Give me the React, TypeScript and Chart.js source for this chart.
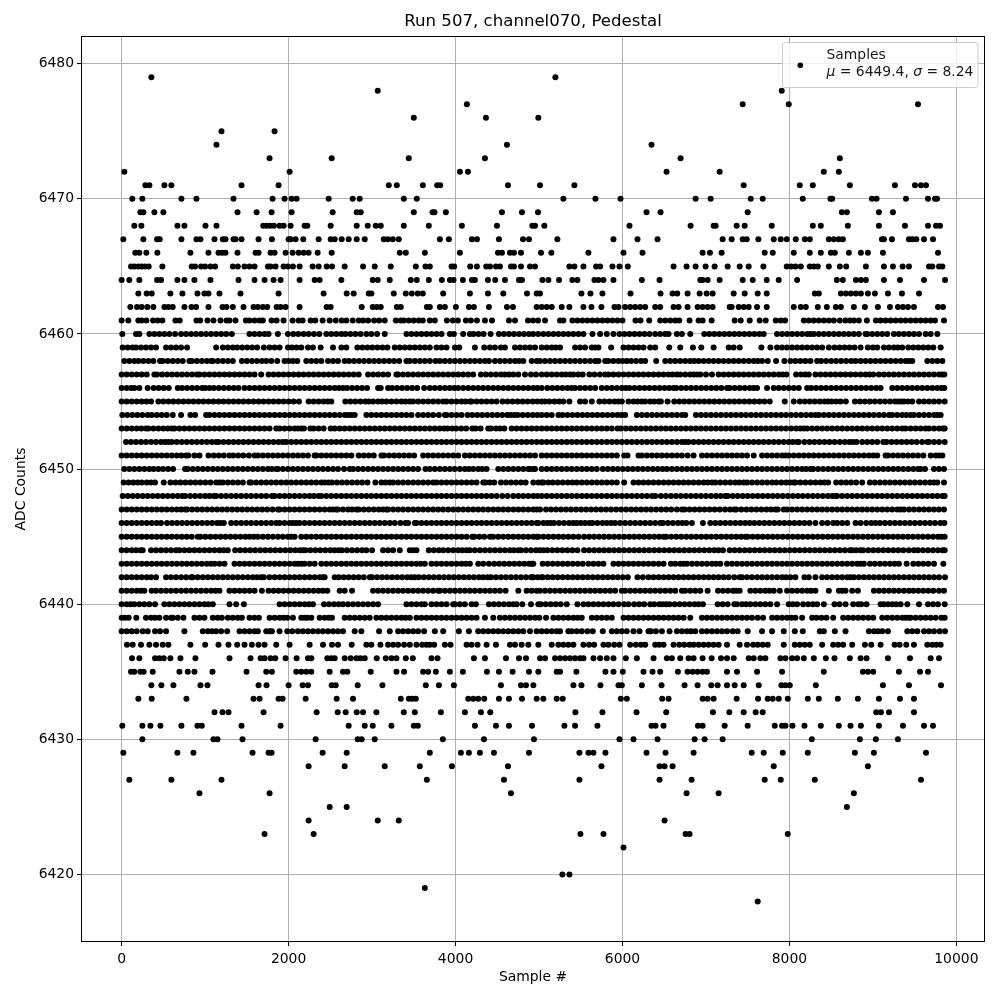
import React, { useEffect, useRef } from "react";
import { Chart, registerables } from "chart.js";

Chart.register(...registerables);

const chartTitle = "Run 507, channel070, Pedestal";
const xAxisLabel = "Sample #";
const yAxisLabel = "ADC Counts";
const seriesLabel = "Samples";
const xTickValues = [0, 2000, 4000, 6000, 8000, 10000];
const yTickValues = [6420, 6430, 6440, 6450, 6460, 6470, 6480];

const r6479 = [356, 5196];
const r6478 = [3068, 7908];
const r6477 = [4136, 7440, 7992, 9540];
const r6476 = [3500, 4364, 4992];
const r6475 = [1196, 1832];
const r6474 = [1136, 4616, 6348];
const r6473 = [1772, 2516, 3440, 4352, 6696, 8604];
const r6472 = [32, 2012, 4052, 4148, 6528, 7164, 8412, 8592];
const r6471 = [284, 332, 512, 596, 1436, 1880, 3200, 3296, 3608, 3780, 3816, 4628, 5012, 5424, 7452, 8124, 8280, 8724, 9264, 9504, 9576, 9636];
const r6470 = [128, 248, 716, 896, 1340, 1808, 1952, 2036, 2096, 2480, 2768, 2852, 3380, 3536, 5292, 5676, 5976, 6876, 7056, 7536, 7680, 8160, 8492, 8512, 8988, 9044, 9396, 9660, 9744, 9768];
const r6469 = [224, 260, 392, 500, 1388, 1616, 1796, 2036, 2528, 2816, 2864, 3500, 3724, 3748, 3884, 4556, 4796, 4988, 6288, 6456, 7500, 8628, 8688, 9072, 9240];
const r6468 = [152, 236, 668, 752, 1004, 1136, 1696, 1736, 1776, 1824, 1892, 1940, 2024, 2192, 2224, 2504, 2816, 2948, 3044, 3104, 3380, 3680, 4076, 4496, 4920, 4952, 5064, 6084, 6816, 7092, 7116, 7368, 7464, 7788, 8280, 8376, 8700, 9072, 9384, 9660, 9756, 9804];
const r6467 = [20, 260, 424, 456, 716, 896, 944, 1112, 1212, 1244, 1340, 1364, 1436, 1640, 1800, 2000, 2024, 2084, 2176, 2360, 2504, 2552, 2636, 2720, 2816, 2912, 3140, 3188, 3248, 3320, 3812, 3920, 4196, 4256, 4520, 4808, 4880, 5220, 5892, 6180, 6420, 7200, 7308, 7440, 7488, 7628, 7812, 7896, 7968, 8076, 8184, 8244, 8472, 8532, 8592, 8640, 9108, 9132, 9228, 9432, 9472, 9520, 9612, 9720];
const r6466 = [164, 212, 296, 428, 824, 1040, 1160, 1204, 1244, 1388, 1604, 1640, 1784, 1832, 1964, 2048, 2120, 2180, 2240, 2348, 2516, 3332, 3404, 3632, 4052, 4508, 4556, 4652, 4700, 4784, 5024, 5148, 5592, 6012, 6240, 6960, 7048, 7188, 7704, 7800, 8052, 8244, 8376, 8496, 8544, 8712, 8856, 8940, 9120, 9780];
const r6465 = [112, 152, 200, 240, 280, 324, 488, 840, 880, 952, 1000, 1064, 1120, 1332, 1392, 1472, 1532, 1592, 1752, 1784, 1844, 1940, 1992, 2052, 2132, 2288, 2360, 2456, 2520, 2672, 2892, 3032, 3224, 3524, 3640, 3692, 3952, 3984, 4176, 4256, 4368, 4412, 4484, 4532, 4664, 4700, 4784, 4892, 4952, 5364, 5424, 5532, 5684, 5732, 5880, 5964, 6064, 6612, 6768, 6876, 6996, 7104, 7260, 7404, 7512, 7688, 7968, 8020, 8072, 8136, 8244, 8292, 8340, 8472, 8604, 8680, 8916, 9132, 9240, 9356, 9432, 9672, 9712, 9792, 9832];
const r6464 = [0, 92, 212, 424, 472, 668, 752, 872, 1064, 1400, 1592, 1712, 1820, 1904, 2132, 2312, 2372, 2632, 3008, 3068, 3212, 3464, 3536, 3680, 3836, 3932, 3976, 4088, 4196, 4232, 4388, 4476, 4592, 4760, 4796, 5040, 5112, 5240, 5400, 5460, 5664, 5712, 5772, 5892, 6232, 6444, 6932, 6960, 7020, 7164, 7440, 7560, 7728, 7872, 8092, 8568, 8640, 8796, 8856, 8916, 9132, 9324, 9612, 9864];
const r6463 = [200, 300, 360, 584, 728, 908, 992, 1040, 1172, 1424, 1880, 2420, 2696, 2780, 2960, 2992, 3260, 3404, 3476, 3548, 3608, 3852, 4172, 4388, 4572, 4856, 4972, 5012, 5508, 5616, 5760, 6096, 6456, 6600, 6656, 6780, 6924, 7008, 7080, 7332, 7464, 7620, 7728, 8304, 8352, 8616, 8676, 8736, 8796, 8856, 8940, 9024, 9180, 9348, 9552];
const r6462 = [104, 184, 240, 308, 380, 512, 560, 612, 752, 836, 892, 1040, 1208, 1256, 1332, 1460, 1580, 1632, 1692, 1744, 1856, 1904, 1964, 2132, 2456, 2504, 2876, 3008, 3056, 3104, 3296, 3344, 3656, 3692, 3812, 3872, 4004, 4160, 4220, 4400, 4616, 4688, 4972, 5032, 5092, 5152, 5272, 5364, 5532, 5628, 5748, 5904, 5952, 6032, 6092, 6152, 6212, 6272, 6392, 6452, 6612, 6672, 6780, 6900, 6960, 7020, 7080, 7284, 7308, 7392, 7452, 7512, 7612, 7728, 8052, 8136, 8196, 8340, 8448, 8556, 8616, 8772, 8904, 9060, 9204, 9300, 9360, 9420, 9492, 9780, 9840];
const r6461 = [0, 80, 200, 240, 296, 376, 432, 488, 644, 696, 896, 940, 1028, 1100, 1184, 1256, 1292, 1364, 1488, 1532, 1592, 1652, 1692, 1796, 1856, 1940, 2048, 2120, 2168, 2264, 2320, 2408, 2492, 2564, 2636, 2692, 2768, 2840, 2892, 2952, 3024, 3084, 3152, 3284, 3344, 3380, 3440, 3500, 3560, 3608, 3692, 3752, 3896, 3968, 4028, 4124, 4184, 4256, 4352, 4436, 4640, 4712, 4868, 4928, 4988, 5072, 5252, 5292, 5400, 5460, 5520, 5580, 5640, 5700, 5760, 5820, 5880, 5940, 6000, 6156, 6216, 6320, 6452, 6512, 6572, 6632, 6680, 6804, 6912, 6960, 7068, 7344, 7416, 7524, 7644, 7716, 7836, 7896, 7948, 8172, 8232, 8292, 8352, 8412, 8472, 8532, 8604, 8672, 8724, 8772, 8832, 8928, 9036, 9092, 9152, 9212, 9272, 9332, 9392, 9452, 9512, 9572, 9632, 9692, 9744, 9852];
const r6460 = [8, 172, 212, 332, 392, 452, 512, 572, 640, 712, 772, 832, 892, 952, 1012, 1072, 1132, 1192, 1252, 1320, 1532, 1592, 1652, 1712, 1760, 1872, 1992, 2056, 2116, 2180, 2240, 2304, 2368, 2452, 2512, 2572, 2632, 2680, 2740, 2800, 2864, 2932, 2992, 3060, 3152, 3412, 3472, 3532, 3592, 3652, 3712, 3772, 3832, 3932, 3980, 4092, 4172, 4216, 4276, 4336, 4420, 4520, 4580, 4640, 4700, 4760, 4820, 4880, 4990, 5052, 5112, 5172, 5232, 5292, 5352, 5412, 5472, 5532, 5640, 5732, 5812, 5892, 5964, 6024, 6084, 6144, 6204, 6264, 6324, 6392, 6452, 6512, 6552, 6652, 6712, 6812, 6980, 7040, 7100, 7160, 7220, 7280, 7340, 7400, 7460, 7520, 7580, 7640, 7692, 7852, 7912, 7972, 8032, 8092, 8152, 8252, 8292, 8352, 8412, 8472, 8532, 8592, 8652, 8712, 8772, 8832, 8912, 8932, 8992, 9052, 9112, 9172, 9252, 9312, 9372, 9432, 9492, 9552, 9632, 9692, 9772, 4930, 8212];
const r6459 = [12, 72, 132, 172, 232, 292, 352, 412, 532, 592, 652, 712, 784, 1132, 1212, 1272, 1332, 1384, 1444, 1504, 1564, 1624, 1704, 1772, 1832, 1892, 1992, 2040, 2096, 2152, 2232, 2292, 2384, 2532, 2632, 2692, 2824, 2884, 2944, 3004, 3064, 3124, 3184, 3272, 3332, 3392, 3452, 3512, 3572, 3632, 3692, 3772, 3832, 3892, 3992, 4044, 4232, 4344, 4412, 4472, 4544, 4592, 4712, 4772, 4832, 4892, 4952, 5032, 5092, 5152, 5252, 5432, 5492, 5552, 5632, 5712, 5864, 6012, 6072, 6132, 6192, 6252, 6332, 6392, 6560, 6692, 6844, 6944, 7092, 7272, 7332, 7404, 7664, 7772, 7852, 7912, 7972, 8032, 8092, 8152, 8212, 8272, 8332, 8392, 8472, 8540, 8600, 8660, 8720, 8780, 8852, 8940, 9052, 9132, 9192, 9252, 9352, 9424, 9484, 9544, 9604, 9664, 9724, 9812, 5200, 5672, 9300, 9000];
const r6458 = [32, 92, 152, 200, 260, 320, 380, 460, 492, 552, 612, 672, 732, 812, 840, 900, 960, 1020, 1072, 1092, 1152, 1212, 1272, 1332, 1440, 1500, 1560, 1620, 1680, 1732, 1792, 1864, 1952, 2000, 2104, 2212, 2272, 2332, 2392, 2472, 2532, 2592, 2672, 2724, 2784, 2844, 2904, 2964, 3024, 3084, 3144, 3204, 3264, 3324, 3412, 3452, 3512, 3572, 3632, 3692, 3760, 3812, 3872, 3932, 3992, 4052, 4112, 4172, 4232, 4292, 4352, 4400, 4472, 4532, 4592, 4652, 4712, 4812, 4912, 4972, 5012, 5072, 5132, 5192, 5252, 5312, 5372, 5432, 5492, 5552, 5612, 5672, 5712, 5792, 5832, 5892, 5952, 6052, 6104, 6164, 6224, 6272, 6404, 6512, 6572, 6632, 6692, 6752, 6812, 6912, 6972, 7032, 7092, 7152, 7212, 7272, 7332, 7392, 7452, 7512, 7572, 7672, 7740, 7840, 7940, 8012, 8072, 8132, 8192, 8252, 8332, 8380, 8440, 8500, 8560, 8620, 8680, 8740, 8792, 8852, 8912, 8972, 9032, 9092, 9152, 9212, 9272, 9332, 9392, 9472, 9652, 9712, 9772, 9832, 4760, 6000, 6860, 7620, 2050, 9432];
const r6457 = [0, 60, 120, 180, 240, 300, 392, 424, 484, 544, 604, 664, 724, 784, 844, 904, 932, 992, 1052, 1112, 1172, 1232, 1292, 1352, 1412, 1472, 1532, 1592, 1672, 1760, 1820, 1880, 1940, 2000, 2060, 2120, 2180, 2240, 2300, 2360, 2420, 2480, 2540, 2600, 2660, 2720, 2780, 2840, 2952, 3012, 3072, 3132, 3192, 3292, 3312, 3372, 3432, 3492, 3552, 3612, 3672, 3732, 3792, 3852, 3912, 3972, 4032, 4092, 4152, 4212, 4304, 4364, 4424, 4484, 4544, 4640, 4692, 4752, 4832, 4904, 4964, 5032, 5092, 5152, 5212, 5272, 5372, 5412, 5524, 5604, 5664, 5792, 5832, 5892, 5952, 6012, 6072, 6132, 6192, 6252, 6312, 6372, 6432, 6492, 6552, 6652, 6692, 6752, 6812, 6892, 6932, 7072, 7152, 7212, 7272, 7332, 7392, 7452, 7512, 7572, 7632, 7692, 7752, 7812, 7872, 7964, 8080, 8232, 8312, 8372, 8432, 8492, 8552, 8612, 8672, 8732, 8792, 8852, 8912, 9004, 9072, 9132, 9192, 9252, 9312, 9372, 9432, 9492, 9552, 9612, 9672, 9732, 9792, 9856, 5320, 5730, 6600, 6852, 7000, 7920, 8140, 8190, 8960, 9828, 4592, 5470];
const r6456 = [0, 60, 112, 152, 212, 312, 384, 444, 504, 564, 672, 724, 784, 844, 904, 964, 1052, 1104, 1164, 1224, 1284, 1344, 1400, 1472, 1532, 1592, 1652, 1712, 1772, 1832, 1892, 1952, 2012, 2072, 2132, 2192, 2252, 2312, 2372, 2432, 2492, 2552, 2652, 2700, 2760, 2820, 2880, 2940, 3072, 3104, 3192, 3240, 3300, 3360, 3420, 3480, 3540, 3624, 3692, 3752, 3812, 3872, 3984, 4032, 4092, 4152, 4212, 4272, 4332, 4392, 4452, 4512, 4572, 4632, 4692, 4752, 4812, 4872, 4932, 5032, 5100, 5160, 5220, 5280, 5340, 5432, 5492, 5552, 5672, 5752, 5812, 5872, 5932, 6084, 6144, 6204, 6264, 6324, 6384, 6444, 6504, 6612, 6644, 6704, 6764, 6824, 6884, 6944, 7004, 7064, 7124, 7184, 7252, 7284, 7344, 7404, 7464, 7524, 7612, 7732, 7812, 7872, 7932, 7992, 8052, 8112, 8212, 8260, 8320, 8380, 8440, 8500, 8560, 8620, 8680, 8740, 8800, 8860, 8920, 8980, 9040, 9092, 9232, 9292, 9352, 9412, 9472, 9532, 9592, 9652, 9712, 9772, 9856, 5390, 5612, 5992, 6040, 6560, 7570, 9820, 2604, 3930, 1000, 4980];
const r6455 = [0, 60, 120, 180, 240, 352, 440, 500, 560, 620, 680, 740, 800, 860, 920, 980, 1040, 1100, 1160, 1220, 1280, 1340, 1400, 1460, 1520, 1580, 1640, 1700, 1760, 1820, 1880, 1940, 2000, 2124, 2240, 2300, 2360, 2420, 2512, 2680, 2740, 2800, 2860, 3012, 3072, 3172, 3232, 3292, 3352, 3452, 3492, 3552, 3612, 3672, 3732, 3852, 3892, 3952, 4012, 4072, 4172, 4192, 4252, 4312, 4372, 4432, 4492, 4564, 4624, 4684, 4744, 4804, 4864, 4924, 5032, 5072, 5124, 5184, 5292, 5364, 5492, 5552, 5632, 5724, 5784, 5844, 5904, 5992, 6072, 6132, 6232, 6272, 6332, 6432, 6460, 6540, 6620, 6680, 6740, 6800, 6860, 6920, 6980, 7040, 7100, 7160, 7220, 7280, 7340, 7400, 7460, 7520, 7580, 7640, 7700, 7764, 7944, 8052, 8124, 8184, 8244, 8304, 8364, 8464, 8504, 8612, 8676, 8784, 8844, 8904, 8964, 9024, 9084, 9144, 9204, 9264, 9340, 9372, 9472, 9552, 9672, 9732, 9792, 9860, 296, 2060, 2470, 2920, 2960, 3120, 3400, 3792, 4120, 4980, 5240, 5950, 6180, 6380, 8420, 8560, 9300, 9420, 9612];
const r6454 = [8, 68, 128, 188, 248, 312, 360, 420, 480, 540, 612, 712, 824, 880, 1012, 1052, 1112, 1172, 1232, 1292, 1352, 1412, 1472, 1532, 1592, 1652, 1712, 1772, 1832, 1892, 1952, 2012, 2072, 2132, 2192, 2252, 2312, 2372, 2432, 2492, 2552, 2672, 2712, 2792, 2932, 2992, 3052, 3112, 3172, 3232, 3292, 3352, 3412, 3472, 3552, 3612, 3672, 3732, 3872, 3892, 3952, 4012, 4072, 4144, 4200, 4260, 4320, 4380, 4440, 4500, 4560, 4704, 4744, 4804, 4864, 4924, 5032, 5092, 5152, 5232, 5280, 5340, 5400, 5460, 5520, 5580, 5640, 5700, 5760, 5820, 5880, 5940, 6032, 6172, 6232, 6292, 6352, 6412, 6472, 6532, 6592, 6712, 6752, 6880, 6940, 7000, 7060, 7120, 7180, 7240, 7300, 7360, 7420, 7480, 7540, 7600, 7660, 7720, 7780, 7840, 7900, 7960, 8020, 8080, 8140, 8200, 8312, 8352, 8412, 8472, 8532, 8592, 8652, 8712, 8772, 8832, 8892, 8952, 9012, 9072, 9192, 9232, 9292, 9352, 9452, 9492, 9552, 9612, 9672, 9732, 9812, 2612, 2752, 3800, 4620, 4660, 4980, 5990, 6652, 8260, 9130, 9400, 9772];
const r6453 = [0, 60, 120, 180, 292, 320, 380, 440, 500, 600, 632, 692, 752, 812, 872, 932, 992, 1052, 1112, 1172, 1232, 1292, 1352, 1412, 1472, 1532, 1592, 1652, 1712, 1772, 1852, 1892, 1952, 2012, 2152, 2184, 2260, 2300, 2360, 2420, 2504, 2552, 2612, 2672, 2732, 2792, 2852, 2912, 2972, 3032, 3092, 3152, 3212, 3272, 3332, 3392, 3452, 3512, 3572, 3632, 3692, 3752, 3864, 3904, 3960, 4008, 4068, 4128, 4200, 4240, 4300, 4392, 4424, 4484, 4584, 4672, 4732, 4792, 4852, 4912, 4972, 5032, 5092, 5152, 5212, 5272, 5332, 5392, 5452, 5512, 5572, 5632, 5692, 5752, 5812, 5872, 5940, 5980, 6040, 6100, 6160, 6220, 6280, 6340, 6400, 6460, 6520, 6580, 6640, 6700, 6760, 6820, 6880, 6940, 7000, 7060, 7120, 7180, 7240, 7300, 7360, 7420, 7480, 7540, 7600, 7660, 7720, 7780, 7840, 7900, 7960, 8020, 8080, 8172, 8212, 8272, 8332, 8392, 8452, 8512, 8572, 8632, 8692, 8752, 8812, 8872, 8932, 8992, 9052, 9112, 9172, 9232, 9292, 9352, 9392, 9452, 9512, 9572, 9632, 9672, 9732, 9792, 9860, 236, 552, 2072, 2112, 3810, 4532, 8130, 9840];
const r6452 = [52, 112, 172, 232, 292, 352, 412, 560, 600, 660, 720, 780, 840, 900, 960, 1020, 1132, 1160, 1220, 1280, 1340, 1400, 1460, 1520, 1580, 1640, 1700, 1760, 1820, 1880, 1972, 2032, 2092, 2152, 2212, 2272, 2332, 2392, 2452, 2512, 2572, 2632, 2692, 2752, 2812, 2872, 2932, 2992, 3052, 3112, 3172, 3232, 3292, 3352, 3412, 3472, 3532, 3592, 3652, 3712, 3772, 3832, 3892, 3952, 4012, 4072, 4132, 4192, 4252, 4312, 4372, 4432, 4492, 4552, 4612, 4672, 4732, 4792, 4852, 4912, 4972, 5032, 5092, 5152, 5212, 5272, 5332, 5392, 5452, 5512, 5572, 5632, 5692, 5752, 5812, 5872, 5932, 5992, 6052, 6112, 6172, 6232, 6292, 6352, 6412, 6472, 6532, 6592, 6652, 6792, 6852, 6912, 6972, 7032, 7092, 7152, 7212, 7272, 7332, 7392, 7452, 7512, 7572, 7632, 7692, 7752, 7812, 7872, 7932, 7992, 8092, 8112, 8180, 8240, 8300, 8360, 8420, 8540, 8604, 8664, 8804, 8872, 8932, 8992, 9124, 9164, 9224, 9284, 9344, 9404, 9464, 9524, 9652, 9672, 9732, 9792, 9860, 472, 520, 1080, 1930, 6712, 6752, 8040, 8480, 8720, 8760, 9052, 9590];
const r6451 = [0, 60, 120, 180, 240, 300, 360, 420, 480, 540, 600, 660, 772, 800, 872, 932, 1040, 1104, 1164, 1292, 1336, 1396, 1456, 1592, 1632, 1692, 1752, 1812, 1872, 1932, 1992, 2052, 2112, 2172, 2232, 2312, 2332, 2392, 2452, 2512, 2572, 2632, 2692, 2752, 2840, 2900, 2960, 3020, 3112, 3144, 3204, 3264, 3324, 3384, 3444, 3504, 3612, 3672, 3732, 3792, 3852, 3912, 3972, 4032, 4112, 4172, 4232, 4292, 4352, 4412, 4472, 4532, 4592, 4652, 4712, 4772, 4832, 4892, 4952, 5032, 5092, 5152, 5212, 5272, 5332, 5392, 5452, 5512, 5572, 5632, 5692, 5752, 5812, 5872, 5932, 6020, 6060, 6192, 6232, 6292, 6352, 6412, 6472, 6532, 6592, 6652, 6780, 6852, 6952, 7012, 7072, 7132, 7192, 7252, 7312, 7372, 7432, 7492, 7572, 7672, 7732, 7792, 7852, 7952, 7992, 8052, 8112, 8172, 8232, 8292, 8352, 8412, 8472, 8592, 8652, 8712, 8772, 8832, 8892, 9004, 9052, 9152, 9180, 9240, 9300, 9360, 9420, 9480, 9604, 9692, 9832, 716, 1224, 1524, 6712, 7912, 8532, 8952, 9540, 9752, 9792];
const r6450 = [32, 92, 152, 212, 272, 332, 440, 496, 556, 616, 760, 792, 852, 912, 972, 1032, 1092, 1152, 1212, 1272, 1332, 1392, 1452, 1512, 1572, 1632, 1692, 1752, 1852, 1872, 1932, 1992, 2052, 2112, 2172, 2232, 2292, 2352, 2412, 2472, 2532, 2592, 2732, 2772, 2832, 2892, 2952, 3012, 3072, 3132, 3192, 3252, 3312, 3372, 3432, 3492, 3552, 3640, 3692, 3752, 3812, 3872, 4052, 4112, 4212, 4272, 4372, 4512, 4572, 4632, 4752, 4812, 4872, 4932, 5032, 4892, 4952, 5092, 5152, 5212, 5272, 5332, 5392, 5452, 5512, 5572, 5632, 5692, 5764, 5824, 5884, 5944, 6004, 6064, 6124, 6184, 6244, 6304, 6364, 6424, 6532, 6592, 6652, 6712, 6772, 6832, 6892, 6952, 7012, 7072, 7132, 7192, 7252, 7312, 7372, 7432, 7492, 7552, 7612, 7672, 7732, 7792, 7852, 7912, 7972, 8032, 8092, 8152, 8252, 8284, 8344, 8404, 8464, 8524, 8584, 8644, 8704, 8764, 8824, 8884, 8944, 9004, 9064, 9124, 9184, 9244, 9304, 9364, 9424, 9484, 9572, 9624, 9732, 9852, 384, 1800, 2664, 3932, 3990, 4160, 4320, 4692, 6480, 8200, 9540, 9792];
const r6449 = [24, 84, 192, 240, 352, 400, 504, 584, 644, 704, 764, 824, 884, 944, 1004, 1064, 1172, 1212, 1272, 1332, 1392, 1532, 1552, 1612, 1672, 1732, 1792, 1852, 1912, 1972, 2032, 2092, 2152, 2212, 2272, 2332, 2480, 2520, 2580, 2640, 2700, 2760, 2820, 2944, 3040, 3112, 3212, 3252, 3312, 3372, 3432, 3492, 3552, 3612, 3732, 3772, 3832, 3892, 3952, 4012, 4072, 4132, 4192, 4252, 4332, 4360, 4464, 4544, 4604, 4664, 4724, 4840, 4932, 5032, 5112, 5164, 5224, 5284, 5344, 5452, 5512, 5572, 5632, 5692, 5752, 5812, 5872, 5932, 6020, 6132, 6192, 6252, 6312, 6372, 6432, 6492, 6552, 6612, 6672, 6732, 6792, 6852, 6912, 6972, 7072, 7112, 7172, 7232, 7292, 7452, 7492, 7552, 7612, 7672, 7792, 7844, 7904, 8052, 8072, 8132, 8192, 8252, 8312, 8372, 8464, 8560, 8620, 8680, 8872, 8964, 9024, 9084, 9144, 9204, 9264, 9324, 9384, 9444, 9504, 9564, 9624, 9684, 9772, 9852, 140, 300, 1132, 1452, 2392, 2432, 2880, 3160, 3672, 4412, 4784, 4992, 5052, 5400, 7020, 7352, 7400, 7732, 7960, 8010, 8420, 8740, 8800, 9730];
const r6448 = [12, 72, 132, 192, 252, 312, 372, 432, 492, 552, 612, 724, 760, 820, 880, 940, 1104, 1132, 1192, 1252, 1312, 1372, 1432, 1492, 1552, 1612, 1672, 1732, 1800, 1832, 1892, 1952, 2012, 2072, 2132, 2192, 2252, 2360, 2392, 2452, 2512, 2572, 2632, 2692, 2752, 2812, 2872, 2932, 2992, 3052, 3112, 3172, 3232, 3292, 3352, 3412, 3472, 3532, 3592, 3652, 3712, 3772, 3832, 3952, 4012, 4072, 4132, 4192, 4252, 4312, 4372, 4432, 4492, 4624, 4692, 4752, 4812, 4872, 4932, 5032, 5092, 5152, 5212, 5272, 5332, 5392, 5452, 5512, 5572, 5632, 5692, 5752, 5812, 5872, 5932, 5992, 6052, 6112, 6172, 6232, 6352, 6392, 6460, 6520, 6580, 6640, 6700, 6760, 6820, 6880, 6940, 7000, 7060, 7120, 7232, 7260, 7320, 7380, 7440, 7500, 7560, 7620, 7680, 7740, 7800, 7860, 7920, 7980, 8040, 8100, 8160, 8220, 8280, 8340, 8400, 8552, 8572, 8632, 8692, 8752, 8812, 8872, 8932, 8992, 9052, 9112, 9172, 9232, 9292, 9352, 9412, 9472, 9532, 9592, 9652, 9712, 9772, 9860, 672, 1000, 1052, 2304, 3892, 4560, 4980, 6292, 7176, 8460, 8512, 9830];
const r6447 = [0, 60, 120, 180, 240, 300, 360, 420, 480, 540, 600, 760, 784, 844, 904, 964, 1024, 1084, 1144, 1204, 1264, 1324, 1384, 1444, 1504, 1564, 1624, 1684, 1744, 1872, 1892, 1952, 2012, 2072, 2132, 2192, 2252, 2312, 2372, 2432, 2572, 2592, 2652, 2812, 2840, 2900, 2960, 3172, 3192, 3312, 3372, 3432, 3492, 3552, 3612, 3672, 3732, 3792, 3852, 3912, 3972, 4032, 4092, 4152, 4212, 4272, 4332, 4392, 4452, 4512, 4572, 4632, 4692, 4752, 4812, 4872, 5012, 5084, 5144, 5204, 5264, 5324, 5384, 5444, 5504, 5564, 5624, 5684, 5744, 5804, 5864, 5924, 5984, 6044, 6104, 6164, 6224, 6284, 6344, 6404, 6464, 6524, 6584, 6712, 6744, 6804, 6864, 6924, 6984, 7044, 7104, 7164, 7340, 7364, 7424, 7484, 7544, 7604, 7664, 7724, 7832, 7860, 7932, 7972, 8032, 8092, 8152, 8212, 8272, 8332, 8392, 8452, 8512, 8572, 8632, 8692, 8752, 8812, 8872, 8932, 8992, 9052, 9112, 9172, 9232, 9372, 9432, 9492, 9552, 9612, 9672, 9732, 9852, 660, 712, 1808, 2492, 2532, 2712, 2760, 3020, 3080, 3132, 3252, 4932, 4972, 6652, 7228, 7288, 7780, 9292, 9332, 9792];
const r6446 = [0, 60, 120, 180, 240, 300, 360, 472, 544, 604, 664, 724, 784, 844, 904, 964, 1024, 1084, 1224, 1312, 1372, 1432, 1492, 1552, 1612, 1672, 1852, 1892, 2092, 2132, 2192, 2252, 2312, 2372, 2432, 2492, 2552, 2612, 2672, 2732, 2792, 2852, 2912, 2972, 3032, 3092, 3152, 3212, 3272, 3400, 3432, 3512, 3532, 3592, 3652, 3712, 3772, 3832, 3892, 3952, 4012, 4072, 4132, 4192, 4252, 4312, 4372, 4432, 4492, 4552, 4612, 4672, 4732, 4792, 4852, 4972, 4992, 5052, 5140, 5180, 5240, 5300, 5360, 5452, 5500, 5604, 5640, 5700, 5864, 5912, 5972, 6032, 6092, 6152, 6212, 6272, 6332, 6452, 6484, 6544, 6604, 6764, 6832, 6964, 7052, 7112, 7172, 7232, 7292, 7352, 7412, 7524, 7580, 7640, 7700, 7760, 7820, 7880, 7940, 8000, 8060, 8120, 8180, 8312, 8392, 8524, 8572, 8692, 8792, 8852, 8980, 9032, 9084, 9144, 9204, 9264, 9324, 9384, 9444, 9504, 9564, 9624, 9684, 9744, 9856, 420, 1144, 1184, 1732, 1792, 1952, 2012, 2052, 3340, 4912, 5100, 5410, 5552, 5760, 5812, 6392, 6664, 6716, 7470, 8240, 8456, 8632, 8920, 9808];
const r6445 = [0, 60, 120, 180, 240, 300, 360, 420, 480, 540, 600, 660, 720, 780, 912, 944, 1004, 1064, 1124, 1184, 1244, 1304, 1364, 1424, 1484, 1584, 1632, 1692, 1752, 1812, 1872, 1932, 2072, 2152, 2212, 2272, 2332, 2392, 2452, 2512, 2572, 2632, 2692, 2752, 2812, 2872, 2932, 2992, 3052, 3112, 3172, 3232, 3292, 3352, 3412, 3472, 3532, 3592, 3652, 3712, 3772, 3832, 3892, 3952, 4012, 4072, 4200, 4224, 4412, 4452, 4512, 4572, 4632, 4692, 4752, 4812, 4872, 4972, 4992, 5052, 5112, 5172, 5232, 5292, 5352, 5472, 5540, 5600, 5660, 5720, 5780, 5840, 5900, 5960, 6020, 6080, 6140, 6200, 6260, 6320, 6380, 6492, 6524, 6584, 6644, 6704, 6764, 6824, 6884, 6944, 7004, 7064, 7124, 7184, 7244, 7304, 7364, 7472, 7500, 7560, 7620, 7680, 7740, 7800, 7860, 7920, 7980, 8040, 8100, 8160, 8220, 8280, 8340, 8400, 8460, 8520, 8580, 8640, 8700, 8760, 8820, 8880, 8940, 9000, 9060, 9120, 9180, 9240, 9300, 9360, 9420, 9480, 9540, 9600, 9660, 9720, 9780, 9860, 840, 1532, 1992, 2032, 4132, 4284, 4344, 4932, 5412, 6440, 7420, 9820];
const r6444 = [0, 60, 120, 224, 252, 352, 412, 472, 532, 652, 692, 752, 812, 872, 932, 992, 1052, 1112, 1272, 1360, 1420, 1480, 1540, 1600, 1660, 1720, 1780, 1840, 1900, 1960, 2020, 2172, 2200, 2260, 2320, 2380, 2440, 2600, 2640, 2700, 2760, 2820, 2932, 3000, 3132, 3192, 3332, 3452, 3532, 3680, 3740, 3852, 3912, 3972, 4132, 4172, 4232, 4292, 4352, 4412, 4472, 4532, 4592, 4752, 4784, 4844, 4904, 5052, 5100, 5160, 5220, 5280, 5460, 5540, 5600, 5660, 5720, 5780, 5840, 5900, 5960, 6020, 6080, 6140, 6200, 6260, 6320, 6380, 6440, 6500, 6560, 6620, 6680, 6740, 6800, 6860, 6920, 6980, 7040, 7152, 7204, 7284, 7344, 7404, 7464, 7524, 7584, 7644, 7704, 7764, 7824, 7884, 7944, 8004, 8064, 8124, 8184, 8244, 8304, 8364, 8424, 8484, 8544, 8604, 8724, 8752, 8852, 8884, 8944, 9004, 9064, 9124, 9184, 9244, 9304, 9364, 9492, 9540, 9600, 9660, 9720, 9780, 9860, 172, 592, 1172, 1222, 2080, 2132, 2500, 2552, 2880, 3252, 3492, 3800, 4032, 4082, 4652, 4700, 4964, 5012, 5340, 5400, 7100, 8664, 8800, 9430, 9836];
const r6443 = [0, 60, 120, 180, 240, 300, 360, 420, 480, 540, 600, 660, 720, 780, 840, 900, 960, 1020, 1112, 1172, 1232, 1352, 1412, 1472, 1532, 1592, 1652, 1712, 1772, 1832, 1892, 1952, 2012, 2152, 2192, 2312, 2392, 2452, 2512, 2572, 2632, 2692, 2752, 2812, 2872, 2932, 2992, 3052, 3112, 3172, 3292, 3352, 3412, 3472, 3532, 3632, 3712, 3772, 3832, 3892, 3952, 4012, 4072, 4172, 4272, 4400, 4464, 4524, 4584, 4644, 4704, 4764, 4824, 4932, 4912, 5044, 5104, 5164, 5224, 5284, 5344, 5404, 5592, 5652, 5772, 5892, 5952, 6012, 6072, 6132, 6192, 6252, 6312, 6372, 6432, 6492, 6580, 6632, 6772, 6832, 6892, 6952, 7012, 7072, 7172, 7252, 7312, 7372, 7432, 7492, 7612, 7672, 7732, 7792, 7852, 7912, 7972, 8032, 8092, 8152, 8212, 8272, 8332, 8392, 8452, 8512, 8572, 8632, 8692, 8752, 8892, 8964, 9024, 9084, 9144, 9204, 9312, 9404, 9484, 9544, 9604, 9664, 9732, 9844, 1070, 2072, 2112, 2252, 3232, 3580, 4122, 4332, 4880, 5464, 5524, 5712, 6692, 6732, 7120, 7552, 8812, 8852, 9260];
const r6442 = [0, 60, 120, 180, 240, 352, 412, 532, 592, 652, 712, 832, 852, 912, 972, 1032, 1092, 1152, 1212, 1272, 1332, 1392, 1452, 1512, 1572, 1672, 1704, 1772, 1832, 1892, 1952, 2012, 2072, 2132, 2192, 2252, 2412, 2432, 2552, 2600, 2660, 2720, 2780, 2840, 2972, 3000, 3060, 3120, 3180, 3240, 3300, 3360, 3420, 3512, 3560, 3620, 3680, 3740, 3800, 3860, 3920, 3980, 4040, 4100, 4160, 4220, 4280, 4384, 4424, 4484, 4544, 4604, 4664, 4724, 4784, 4904, 4932, 5032, 4924, 4984, 5044, 5104, 5164, 5224, 5284, 5344, 5404, 5464, 5524, 5584, 5644, 5704, 5764, 5824, 5884, 5944, 6004, 6064, 6180, 6244, 6312, 6372, 6432, 6492, 6552, 6612, 6672, 6732, 6792, 6852, 6912, 6972, 7032, 7092, 7152, 7212, 7272, 7404, 7432, 7492, 7552, 7612, 7672, 7732, 7792, 7852, 7912, 8012, 8072, 8180, 8232, 8312, 8392, 8452, 8512, 8572, 8632, 8772, 8832, 8892, 8952, 9012, 9072, 9132, 9192, 9252, 9312, 9372, 9432, 9492, 9552, 9612, 9672, 9732, 9792, 9864, 300, 772, 1622, 2312, 2372, 2900, 3470, 4332, 4844, 7340, 7960, 8692, 8732];
const r6441 = [0, 60, 120, 180, 272, 360, 412, 472, 532, 592, 652, 712, 772, 832, 892, 952, 1012, 1072, 1172, 1292, 1352, 1412, 1472, 1592, 1680, 1760, 1820, 1880, 1940, 2000, 2060, 2120, 2180, 2240, 2300, 2412, 2464, 2612, 2672, 2760, 3012, 3072, 3132, 3192, 3252, 3312, 3372, 3432, 3492, 3552, 3612, 3672, 3792, 3812, 3872, 3932, 3992, 4052, 4112, 4172, 4232, 4292, 4352, 4412, 4472, 4600, 4752, 4852, 4912, 4972, 5012, 5072, 5132, 5192, 5252, 5312, 5372, 5432, 5492, 5552, 5612, 5672, 5732, 5792, 5852, 5912, 5992, 6032, 6092, 6152, 6212, 6272, 6332, 6392, 6452, 6512, 6572, 6632, 6712, 6752, 6812, 6872, 6932, 7020, 7144, 7204, 7264, 7404, 7532, 7592, 7652, 7712, 7812, 7884, 7972, 8032, 8092, 8152, 8212, 8312, 8472, 8592, 8672, 8752, 8820, 9012, 9072, 9132, 9192, 9252, 9312, 9432, 9484, 9544, 9604, 9664, 9792, 9852, 230, 1124, 1532, 2360, 3732, 4532, 7324, 7364, 7760, 8260, 8632, 9372, 9724];
const r6440 = [0, 60, 152, 212, 272, 400, 512, 572, 632, 692, 752, 812, 872, 932, 992, 1092, 1292, 1372, 1464, 1892, 1952, 2012, 2072, 2132, 2292, 2424, 2484, 2544, 2652, 2712, 2772, 2832, 2892, 2952, 3072, 3412, 3472, 3532, 3632, 3712, 3772, 3832, 3892, 3972, 3992, 4052, 4112, 4192, 4244, 4400, 4460, 4520, 4580, 4640, 4732, 4800, 4904, 4992, 5020, 5080, 5140, 5200, 5332, 5460, 5532, 5592, 5652, 5712, 5772, 5832, 5892, 6020, 6072, 6140, 6200, 6332, 6380, 6440, 6524, 6564, 6624, 6684, 6744, 6804, 6864, 6964, 7140, 7200, 7260, 7340, 7372, 7432, 7532, 7592, 7652, 7712, 7772, 7852, 7992, 8092, 8164, 8224, 8332, 8412, 8540, 8672, 8764, 8824, 8924, 9092, 9180, 9232, 9332, 9412, 9552, 9660, 9720, 9780, 9860, 108, 332, 1040, 2192, 2244, 2600, 3012, 3592, 4692, 5260, 5952, 6260, 6480, 6912, 8040, 8280, 8600, 8860, 9130, 9280, 7480];
const r6439 = [0, 84, 176, 292, 352, 452, 532, 592, 672, 740, 872, 932, 992, 1092, 1200, 1272, 1332, 1440, 1532, 1644, 1772, 1832, 1892, 1984, 2052, 2152, 2224, 2272, 2372, 2432, 2520, 2672, 2732, 2792, 2852, 2972, 3052, 3112, 3232, 3292, 3452, 3532, 3592, 3652, 3712, 3772, 3832, 3892, 3952, 4012, 4072, 4132, 4252, 4352, 4452, 4532, 4592, 4652, 4712, 4772, 4832, 4892, 5004, 5084, 5172, 5232, 5292, 5352, 5512, 5632, 5692, 5872, 6012, 6072, 6132, 6192, 6252, 6312, 6372, 6432, 6492, 6552, 6812, 6952, 7012, 7072, 7132, 7192, 7252, 7312, 7372, 7432, 7492, 7552, 7684, 7792, 7852, 8072, 8152, 8272, 8324, 8384, 8524, 8644, 8704, 8764, 8824, 9004, 9112, 9172, 9232, 9432, 9452, 9512, 9572, 9632, 9692, 9752, 9860, 40, 400, 612, 1150, 1392, 1590, 1940, 2190, 2480, 2912, 3172, 3352, 3402, 4192, 4952, 5412, 5462, 5752, 5812, 6612, 6672, 6732, 7620, 7912, 7972, 8022, 8444, 8884, 8944, 9292, 9352, 9392, 9820];
const r6438 = [0, 60, 120, 180, 252, 312, 400, 460, 532, 752, 972, 1032, 1132, 1192, 1264, 1412, 1472, 1532, 1632, 1732, 1800, 1892, 1984, 2044, 2112, 2172, 2232, 2292, 2352, 2412, 2472, 2532, 2652, 2792, 2872, 3084, 3212, 3312, 3372, 3432, 3552, 3624, 3752, 3852, 4040, 4160, 4272, 4332, 4392, 4512, 4572, 4632, 4692, 4752, 4892, 4972, 5032, 5092, 5212, 5252, 5352, 5392, 5452, 5512, 5644, 5764, 5872, 5932, 6132, 6204, 6312, 6340, 6472, 6564, 6652, 6712, 6872, 6952, 7012, 7072, 7132, 7192, 7252, 7380, 7500, 7672, 7792, 7932, 8064, 8160, 8364, 8412, 8544, 8672, 8952, 9012, 9112, 9180, 9412, 9472, 9532, 9612, 9672, 9732, 9864, 1084, 1592, 1772, 2592, 3492, 4452, 4812, 5152, 5580, 5992, 6052, 6400, 6772, 6820, 7320, 9060, 9800];
const r6437 = [64, 132, 232, 332, 412, 492, 560, 824, 1000, 1160, 1280, 1384, 1472, 1560, 1640, 1712, 1852, 2012, 2252, 2412, 2520, 2592, 2756, 2932, 2992, 3100, 3192, 3252, 3312, 3384, 3452, 3532, 3600, 3652, 3692, 3744, 3872, 3940, 4132, 4192, 4264, 4372, 4484, 4652, 4712, 4792, 4872, 4992, 5152, 5232, 5292, 5412, 5532, 5660, 5772, 5964, 6092, 6272, 6392, 6492, 6612, 6804, 6852, 7092, 7152, 7252, 7404, 7492, 7564, 7740, 7932, 8064, 8124, 8184, 8244, 8392, 8524, 8644, 8752, 8904, 8980, 9092, 9260, 9320, 9400, 9492, 9652, 9812, 5352, 5600, 5832, 5900, 6160, 6220, 6440, 6680, 6740, 6912, 6972, 7032, 7620, 7680, 8584, 9712, 9760];
const r6436 = [124, 212, 400, 452, 504, 584, 704, 884, 1292, 1544, 1664, 1712, 1784, 1840, 1964, 2096, 2232, 2272, 2464, 2512, 2552, 2672, 2744, 2812, 2860, 2912, 3056, 3164, 3232, 3292, 3404, 3488, 3712, 3784, 4220, 4352, 4604, 4760, 4844, 5012, 5072, 5192, 5252, 5312, 5372, 5432, 5492, 5532, 5652, 5732, 5812, 5892, 6040, 6172, 6372, 6532, 6592, 6692, 6792, 6852, 6960, 7068, 7180, 7252, 7332, 7512, 7572, 7652, 7712, 7892, 7952, 8032, 8092, 8172, 8292, 8436, 8540, 8724, 8852, 8924, 9180, 9444, 9692, 9792];
const r6435 = [112, 152, 224, 264, 372, 692, 792, 872, 1088, 1496, 1732, 1800, 2092, 2152, 2212, 2272, 2492, 2652, 2704, 2984, 3292, 3384, 3612, 3672, 3764, 3932, 4088, 4376, 4520, 4684, 4880, 4992, 5212, 5252, 5448, 5796, 5892, 6004, 6252, 6360, 6452, 6664, 6780, 6840, 6900, 6960, 7012, 7252, 7372, 7612, 7912, 8412, 8880, 8940, 9004, 9312, 9564, 9660];
const r6434 = [356, 476, 620, 944, 1028, 1640, 1736, 2000, 2168, 2232, 2516, 2564, 2828, 3124, 3644, 3800, 3980, 4544, 4784, 4844, 4932, 5412, 5508, 5736, 5952, 5992, 6232, 6468, 6744, 6900, 7064, 7140, 7252, 7344, 7452, 7632, 7904, 7952, 8004, 8316, 9120, 9432, 9816];
const r6433 = [200, 360, 776, 1580, 1652, 1880, 1928, 2204, 2576, 2772, 3344, 3440, 3480, 3524, 4152, 4212, 4272, 4344, 4520, 4640, 4796, 4972, 5052, 5212, 5284, 5980, 6052, 6476, 6552, 6960, 7020, 7092, 7368, 7624, 7740, 7800, 7872, 7980, 8220, 8352, 8580, 8820, 9072, 9324, 9492];
const r6432 = [1112, 1208, 1280, 1700, 2336, 2588, 2684, 2816, 2892, 3052, 3380, 3512, 3824, 4112, 4304, 4416, 5436, 5760, 6168, 6524, 7084, 7280, 7452, 7596, 7680, 9040, 9096, 9192, 9492];
const r6431 = [8, 248, 344, 464, 716, 908, 960, 1436, 1904, 2720, 2912, 3008, 3232, 3500, 3548, 4232, 4484, 4640, 4916, 5304, 5432, 5700, 6348, 6396, 6492, 6904, 6960, 7224, 7500, 7824, 7912, 7952, 8036, 8180, 8376, 8592, 8732, 8856, 9072, 9360, 9612, 9720];
const r6430 = [248, 1100, 1148, 1448, 2324, 2828, 2876, 3032, 3848, 4340, 4940, 5964, 6132, 6420, 6864, 6984, 7200, 8268, 8844, 9036, 9300];
const r6429 = [20, 668, 860, 1568, 1760, 1796, 2408, 2696, 3692, 4064, 4160, 4292, 4460, 4880, 5484, 5592, 5652, 5796, 6288, 6516, 6852, 7548, 7692, 7920, 8220, 8784, 9012, 9636];
const r6428 = [2240, 2672, 3152, 3572, 3956, 4628, 5748, 6444, 6504, 6600, 7812, 8940];
const r6427 = [92, 596, 1196, 3656, 4580, 5484, 6444, 6828, 7704, 7896, 8304, 9576];
const r6426 = [932, 1772, 4664, 6768, 7152, 8772];
const r6425 = [2492, 2696, 8688];
const r6424 = [2240, 3068, 3320, 6504];
const r6423 = [1712, 2300, 5496, 5772, 6756, 6804, 7980];
const r6422 = [6012];
const r6420 = [5280, 5364];
const r6419 = [3632];
const r6418 = [7620];

const adcLevels = [6479, 6478, 6477, 6476, 6475, 6474, 6473, 6472, 6471, 6470, 6469, 6468, 6467, 6466, 6465, 6464, 6463, 6462, 6461, 6460, 6459, 6458, 6457, 6456, 6455, 6454, 6453, 6452, 6451, 6450, 6449, 6448, 6447, 6446, 6445, 6444, 6443, 6442, 6441, 6440, 6439, 6438, 6437, 6436, 6435, 6434, 6433, 6432, 6431, 6430, 6429, 6428, 6427, 6426, 6425, 6424, 6423, 6422, 6420, 6419, 6418];
const levelSamples = [r6479, r6478, r6477, r6476, r6475, r6474, r6473, r6472, r6471, r6470, r6469, r6468, r6467, r6466, r6465, r6464, r6463, r6462, r6461, r6460, r6459, r6458, r6457, r6456, r6455, r6454, r6453, r6452, r6451, r6450, r6449, r6448, r6447, r6446, r6445, r6444, r6443, r6442, r6441, r6440, r6439, r6438, r6437, r6436, r6435, r6434, r6433, r6432, r6431, r6430, r6429, r6428, r6427, r6426, r6425, r6424, r6423, r6422, r6420, r6419, r6418];

const FONT = '"DejaVu Sans", sans-serif';

const framePlugin = {
  id: "frame",
  afterDatasetsDraw(chart: any) {
    const { ctx, chartArea: a } = chart;
    ctx.save();
    ctx.strokeStyle = "#000";
    ctx.lineWidth = 1;
    ctx.strokeRect(Math.round(a.left) + 0.5, Math.round(a.top) + 0.5, Math.round(a.right - a.left) - 1, Math.round(a.bottom - a.top) - 1);
    ctx.restore();
  },
};

const legendPlugin = {
  id: "sampleLegend",
  afterDraw(chart: any) {
    const { ctx } = chart;
    ctx.save();
    const x = 782.5, y = 42.5, w = 195.5, h = 45;
    ctx.beginPath();
    ctx.roundRect(x, y, w, h, 3);
    ctx.fillStyle = "rgba(255,255,255,0.8)";
    ctx.fill();
    ctx.strokeStyle = "#cccccc";
    ctx.lineWidth = 1;
    ctx.stroke();
    ctx.fillStyle = "#000";
    ctx.beginPath();
    ctx.arc(800.3, 65.3, 2.8, 0, Math.PI * 2);
    ctx.fill();
    ctx.fillStyle = "#1a1a1a";
    ctx.textBaseline = "alphabetic";
    ctx.textAlign = "left";
    const regular = `13.9px ${FONT}`;
    const italic = `italic 13.9px ${FONT}`;
    ctx.font = regular;
    ctx.fillText(seriesLabel, 826.5, 59);
    const parts: [string, string][] = [
      ["\u03bc", italic],
      [" = 6449.4, ", regular],
      ["\u03c3", italic],
      [" = 8.24", regular],
    ];
    let cx = 826.5;
    for (const [t, f] of parts) {
      ctx.font = f;
      ctx.fillText(t, cx, 76);
      cx += ctx.measureText(t).width;
    }
    ctx.restore();
  },
};

export default function App() {
  const ref = useRef<HTMLCanvasElement | null>(null);
  useEffect(() => {
    if (!ref.current) return;
    const points = adcLevels.flatMap((level, i) => levelSamples[i].map((x) => ({ x, y: level })));
    const chart = new Chart(ref.current, {
      type: "scatter",
      data: {
        datasets: [
          {
            label: seriesLabel,
            data: points,
            pointRadius: 3,
            pointBorderWidth: 0,
            pointBackgroundColor: "#000",
            showLine: false,
          },
        ],
      },
      options: {
        responsive: false,
        animation: false,
        devicePixelRatio: 1,
        layout: { padding: { left: 0, right: 15, top: 0, bottom: 0 } },
        plugins: {
          legend: { display: false },
          tooltip: { enabled: false },
          title: {
            display: true,
            text: chartTitle,
            fullSize: false,
            color: "#000",
            font: { family: FONT, size: 16.6, weight: "normal", lineHeight: 1.2 },
            padding: { top: 12, bottom: 4.08 },
          },
        },
        scales: {
          x: {
            type: "linear",
            min: -487,
            max: 10343,
            afterBuildTicks: (s: any) => {
              s.ticks = xTickValues.map((value) => ({ value }));
            },
            afterFit: (s: any) => {
              s.height = 58;
            },
            grid: { color: "#b0b0b0", lineWidth: 1, tickColor: "#000", tickLength: 4, tickWidth: 1 },
            border: { display: false },
            ticks: { color: "#000", font: { family: FONT, size: 13.9 }, padding: 5, maxRotation: 0, autoSkip: false, callback: (v: any) => String(v) },
            title: { display: true, text: xAxisLabel, color: "#000", font: { family: FONT, size: 13.9 }, padding: { top: 0, bottom: 14 } },
          },
          y: {
            type: "linear",
            min: 6415,
            max: 6482.05,
            afterBuildTicks: (s: any) => {
              s.ticks = yTickValues.map((value) => ({ value }));
            },
            afterFit: (s: any) => {
              s.width = 81;
            },
            grid: { color: "#b0b0b0", lineWidth: 1, tickColor: "#000", tickLength: 4, tickWidth: 1 },
            border: { display: false },
            ticks: { color: "#000", font: { family: FONT, size: 13.9 }, padding: 3, autoSkip: false, callback: (v: any) => String(v) },
            title: { display: true, text: yAxisLabel, color: "#000", font: { family: FONT, size: 13.9 }, padding: { top: 13, bottom: 0 } },
          },
        },
      },
      plugins: [framePlugin, legendPlugin],
    } as any);
    return () => chart.destroy();
  }, []);
  return (
    <div style={{ position: "absolute", left: 0, top: 0, width: 1000, height: 1000 }}>
      <canvas ref={ref} width={1000} height={1000} style={{ display: "block" }} />
    </div>
  );
}
